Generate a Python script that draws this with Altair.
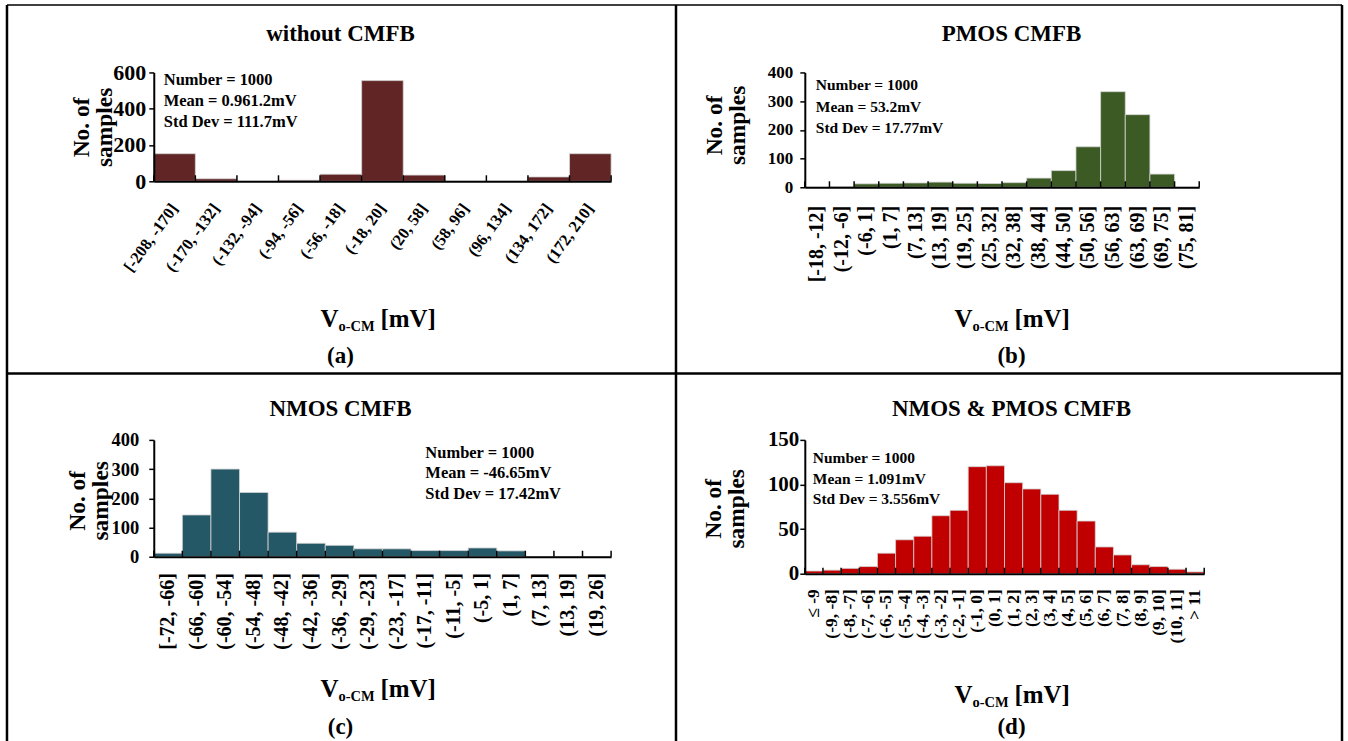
import altair as alt
import pandas as pd

SERIF = "Liberation Serif"

# ---- Monte-Carlo histograms of the output common-mode voltage ----------------
bins_a = ["[-208, -170]", "(-170, -132]", "(-132, -94]", "(-94, -56]", "(-56, -18]",
          "(-18, 20]", "(20, 58]", "(58, 96]", "(96, 134]", "(134, 172]", "(172, 210]"]
counts_a = [152, 14, 0, 6, 39, 555, 34, 0, 0, 24, 152]

bins_b = ["[-18, -12]", "(-12, -6]", "(-6, 1]", "(1, 7]", "(7, 13]", "(13, 19]", "(19, 25]",
          "(25, 32]", "(32, 38]", "(38, 44]", "(44, 50]", "(50, 56]", "(56, 63]", "(63, 69]",
          "(69, 75]", "(75, 81]"]
counts_b = [0, 2, 12, 14, 15, 18, 14, 13, 16, 32, 58, 141, 333, 253, 46, 0]

bins_c = ["[-72, -66]", "(-66, -60]", "(-60, -54]", "(-54, -48]", "(-48, -42]", "(-42, -36]",
          "(-36, -29]", "(-29, -23]", "(-23, -17]", "(-17, -11]", "(-11, -5]", "(-5, 1]",
          "(1, 7]", "(7, 13]", "(13, 19]", "(19, 26]"]
counts_c = [12, 143, 300, 220, 84, 46, 39, 27, 27, 21, 21, 30, 20, 0, 0, 0]

bins_d = ["≤ -9", "(-9, -8]", "(-8, -7]", "(-7, -6]", "(-6, -5]", "(-5, -4]", "(-4, -3]",
          "(-3, -2]", "(-2, -1]", "(-1, 0]", "(0, 1]", "(1, 2]", "(2, 3]", "(3, 4]", "(4, 5]",
          "(5, 6]", "(6, 7]", "(7, 8]", "(8, 9]", "(9, 10]", "(10, 11]", "> 11"]
counts_d = [3, 4, 6, 8, 23, 38, 42, 65, 71, 120, 121, 102, 95, 89, 71, 59, 30, 21, 10, 8, 5, 2]

stats_a = ["Number = 1000", "Mean = 0.961.2mV", "Std Dev = 111.7mV"]
stats_b = ["Number = 1000", "Mean = 53.2mV", "Std Dev = 17.77mV"]
stats_c = ["Number = 1000", "Mean = -46.65mV", "Std Dev = 17.42mV"]
stats_d = ["Number = 1000", "Mean = 1.091mV", "Std Dev = 3.556mV"]

titles = ["without CMFB", "PMOS CMFB", "NMOS CMFB", "NMOS & PMOS CMFB"]
tags = ["(a)", "(b)", "(c)", "(d)"]

# ---- layout of each panel (pixel offsets relative to its plot area) ---------
panels = [
    dict(bins=bins_a, counts=counts_a, stats=stats_a, title=titles[0], tag=tags[0],
         color="#622525", ymax=600, ystep=200, w=458, h=109,
         xangle=306, xfont=16.5, xpad=24, yfont=22, ypad=3,
         title_pos=(187, -38), tag_pos=(187, 284), ytitle_pos=(-72, 55),
         xtitle_pos=(167, 255), stats_pos=(10, 7.5), stats_font=16.5, stats_lh=21),
    dict(bins=bins_b, counts=counts_b, stats=stats_b, title=titles[1], tag=tags[1],
         color="#3c5a23", ymax=400, ystep=100, w=395, h=115,
         xangle=270, xfont=20, xpad=18, yfont=17, ypad=7,
         title_pos=(207, -38), tag_pos=(207, 284), ytitle_pos=(-90, 53),
         xtitle_pos=(150, 255), stats_pos=(11, 12.5), stats_font=15.5, stats_lh=21.7),
    dict(bins=bins_c, counts=counts_c, stats=stats_c, title=titles[2], tag=tags[2],
         color="#245866", ymax=400, ystep=100, w=458, h=117,
         xangle=270, xfont=20, xpad=16, yfont=18.5, ypad=10,
         title_pos=(187, -31), tag_pos=(187, 288), ytitle_pos=(-76, 61),
         xtitle_pos=(167, 257), stats_pos=(272, 13), stats_font=16.5, stats_lh=20.5),
    dict(bins=bins_d, counts=counts_d, stats=stats_d, title=titles[3], tag=tags[3],
         color="#c00000", ymax=150, ystep=50, w=400, h=134,
         xangle=270, xfont=17.5, xpad=15, yfont=21, ypad=1,
         title_pos=(207, -31), tag_pos=(207, 288), ytitle_pos=(-91, 69),
         xtitle_pos=(150, 263), stats_pos=(8, 18), stats_font=15.5, stats_lh=20.8),
]

PAGE_W, PAGE_H = 1348, 741
ORIGIN = (153, 71)        # top-left of the first plot area on the page
ROW_GAP, COL_GAP = 253, 194


def label(text, x, y, size, align="center", baseline="middle", angle=0, line_height=0):
    props = dict(font=SERIF, fontWeight="bold", fontSize=size, color="black",
                 align=align, baseline=baseline)
    if angle:
        props["angle"] = angle
    if line_height:
        props["lineBreak"] = "\n"
        props["lineHeight"] = line_height
    return (alt.Chart(pd.DataFrame({"t": [text]}))
            .mark_text(**props)
            .encode(x=alt.value(x), y=alt.value(y), text="t:N"))


def x_title(x0, y0):
    return [
        label("V", x0, y0, 25, align="left", baseline="alphabetic"),
        label("o-CM", x0 + 18, y0 + 4, 14.5, align="left", baseline="alphabetic"),
        label("[mV]", x0 + 60, y0, 25, align="left", baseline="alphabetic"),
    ]


def panel(p):
    df = pd.DataFrame({"bin": p["bins"], "n": p["counts"]})
    xscale = alt.Scale(domain=p["bins"], paddingInner=0, paddingOuter=0)
    h = p["h"]

    bars = alt.Chart(df).mark_bar(color=p["color"], stroke="#d4d4d4", strokeWidth=0.8).encode(
        x=alt.X("bin:N", sort=None, scale=xscale,
                axis=alt.Axis(title=None, ticks=False, labelAngle=p["xangle"],
                              labelFont=SERIF, labelFontSize=p["xfont"], labelFontWeight="bold",
                              labelColor="black", labelPadding=p["xpad"], labelOverlap=False,
                              domainColor="black", domainWidth=2, zindex=1)),
        y=alt.Y("n:Q", scale=alt.Scale(domain=[0, p["ymax"]], nice=False),
                axis=alt.Axis(title=None, grid=False,
                              values=list(range(0, p["ymax"] + 1, p["ystep"])),
                              labelFont=SERIF, labelFontSize=p["yfont"], labelFontWeight="bold",
                              labelColor="black", labelPadding=p["ypad"],
                              tickColor="black", tickWidth=1.5, tickSize=5,
                              domainColor="black", domainWidth=2, zindex=1)),
    )

    # bin-edge tick marks pointing into the plot
    edge_start = alt.Chart(df).mark_rule(color="black", strokeWidth=1.5).encode(
        x=alt.X("bin:N", sort=None, scale=xscale, bandPosition=0),
        y=alt.value(h), y2=alt.value(h - 6))
    edge_end = alt.Chart(df.tail(1)).mark_rule(color="black", strokeWidth=1.5).encode(
        x=alt.X("bin:N", sort=None, scale=xscale, bandPosition=1),
        y=alt.value(h), y2=alt.value(h - 6))

    tx, ty = p["title_pos"]
    gx, gy = p["tag_pos"]
    yx, yy = p["ytitle_pos"]
    sx, sy = p["stats_pos"]
    xx, xy = p["xtitle_pos"]
    layers = [bars, edge_start, edge_end,
              label(p["title"], tx, ty, 23),
              label(p["tag"], gx, gy, 23),
              label("No. of\nsamples", yx, yy, 23.5, angle=270, line_height=23),
              label("\n".join(p["stats"]), sx, sy, p["stats_font"], align="left",
                    line_height=p["stats_lh"])] + x_title(xx, xy)
    return layers


def frame():
    ox, oy = ORIGIN
    page = alt.Chart(pd.DataFrame({"p": [0]})).mark_rect(fill="white").encode(
        x=alt.value(-ox), x2=alt.value(PAGE_W - ox),
        y=alt.value(-oy), y2=alt.value(PAGE_H - oy))
    left, right, mid_x = 6, 1343, 676
    top, mid_y, bottom = 3.5, 372.5, PAGE_H

    def line(x, x2, y, y2, width):
        return alt.Chart(pd.DataFrame({"p": [0]})).mark_rule(color="black", strokeWidth=width).encode(
            x=alt.value(x - ox), x2=alt.value(x2 - ox), y=alt.value(y - oy), y2=alt.value(y2 - oy))

    return [page,
            line(left, right, top, top, 1.5),
            line(left, right, mid_y, mid_y, 2.5),
            line(left, left, top, bottom, 2.5),
            line(right, right, top, bottom, 2.5),
            line(mid_x, mid_x, top, bottom, 2.5)]


cells = []
for i, p in enumerate(panels):
    layers = panel(p)
    if i == 0:
        layers = frame() + layers
    cells.append(alt.layer(*layers).properties(width=p["w"], height=p["h"]))

chart = (alt.concat(*cells, columns=2, spacing={"row": ROW_GAP, "column": COL_GAP},
                    bounds="flush", align="each")
         .properties(padding=0)
         .configure_view(stroke="transparent"))

chart.save("out.html", embed_options={"renderer": "svg", "actions": False})
